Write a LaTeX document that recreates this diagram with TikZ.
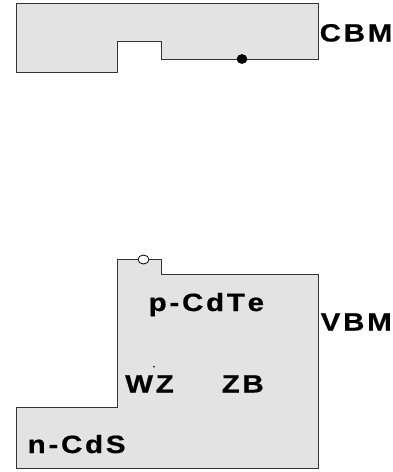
\documentclass[tikz,border=0pt]{standalone}
\usepackage{fontspec}
\usetikzlibrary{shapes.geometric}
\setmainfont{Liberation Sans}
\newfontfamily\lblfont[LetterSpace=11,FakeStretch=1.18,FakeBold=0.6,Kerning=Off]{Liberation Sans Bold}
\begin{document}
\begin{tikzpicture}[x=1pt,y=-1pt,
  band/.style={draw=black!80,line width=1pt,fill=black!11},
  lbl/.style={anchor=base west,inner sep=0pt,font=\lblfont\fontsize{25}{25}\selectfont},
  electron/.style={draw=black,fill=black,line width=0.6pt},
  hole/.style={draw=black,fill=white,line width=0.8pt}]
\useasboundingbox (0,0) rectangle (393,472);
% conduction band
\draw[band] (16,3) -- (318,3) -- (318,59) -- (161,59) -- (161,41.5) -- (117,41.5) -- (117,72) -- (16,72) -- cycle;
\node[electron,ellipse,minimum width=10pt,minimum height=9pt,inner sep=0pt] (e) at (242,59) {};
% valence band
\draw[band] (117,259.3) -- (161,259.3) -- (161,274.3) -- (318,274.3) -- (318,468) -- (16,468) -- (16,407.3) -- (117,407.3) -- cycle;
\node[hole,ellipse,minimum width=11pt,minimum height=9pt,inner sep=0pt] (h) at (143.5,259.5) {};
% labels
\node[lbl] (cbm) at (319.5,41.5) {CBM};
\node[lbl] (vbm) at (320.5,330.5) {VBM};
\node[lbl] (pcdte) at (148.5,311) {p-CdTe};
\node[lbl] (wz) at (125,392.5) {WZ};
\node[lbl] (zb) at (221.5,392.5) {ZB};
\node[lbl] (ncds) at (27.5,453) {n-CdS};
\fill (154,366.7) circle (0.9);
\end{tikzpicture}
\end{document}
